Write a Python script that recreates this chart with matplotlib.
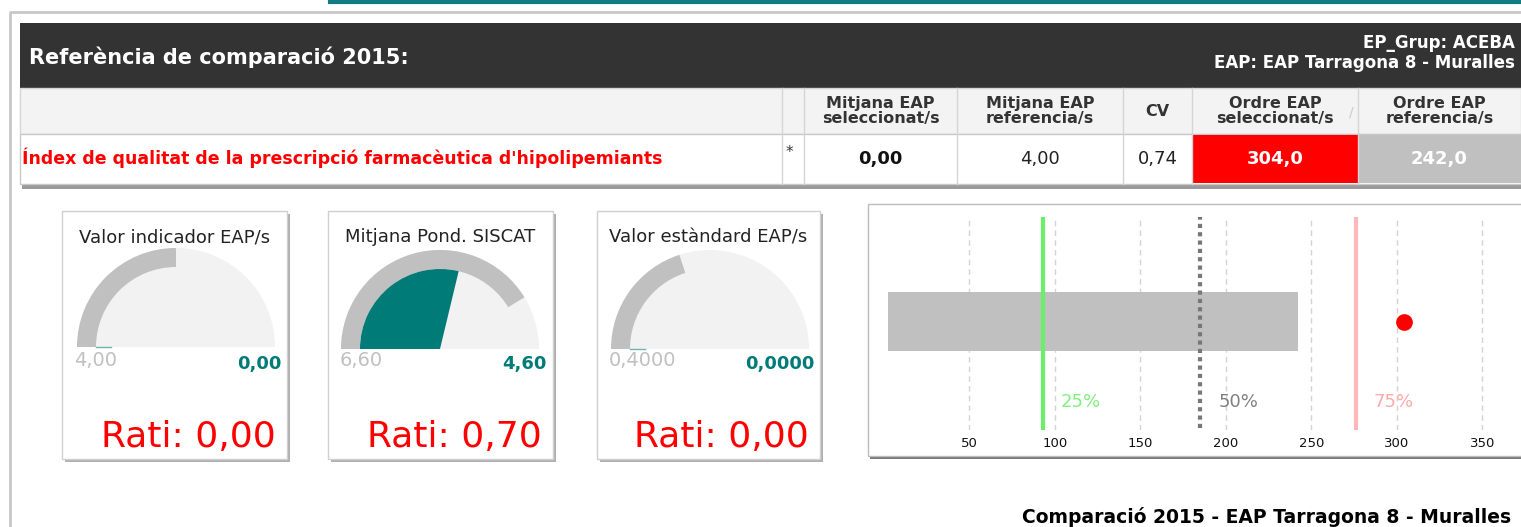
import matplotlib
matplotlib.use("Agg")
import matplotlib.pyplot as plt
from matplotlib.patches import Rectangle, Wedge

# ---- dades ----
header_title = "Referència de comparació 2015:"
grup_text = "EP_Grup: ACEBA"
eap_text = "EAP: EAP Tarragona 8 - Muralles"
col_labels = ["Mitjana EAP\nseleccionat/s", "Mitjana EAP\nreferencia/s", "CV",
              "Ordre EAP\nseleccionat/s", "Ordre EAP\nreferencia/s"]
indicator = "Índex de qualitat de la prescripció farmacèutica d'hipolipemiants"
row_values = ["0,00", "4,00", "0,74", "304,0", "242,0"]

gauge_titles = ["Valor indicador EAP/s", "Mitjana Pond. SISCAT", "Valor estàndard EAP/s"]
gauge_values = [0.0, 4.6, 0.0]
gauge_refs = [4.0, 6.6, 0.4]
gauge_max = [8.0, 8.0, 1.0]
gauge_ref_labels = ["4,00", "6,60", "0,4000"]
gauge_value_labels = ["0,00", "4,60", "0,0000"]
ratis = ["Rati: 0,00", "Rati: 0,70", "Rati: 0,00"]

rank_ref = 242
rank_sel = 304
pct_labels = ["25%", "50%", "75%"]
pct_values = [93, 185, 276]
axis_ticks = [50, 100, 150, 200, 250, 300, 350]
footer = "Comparació 2015 - EAP Tarragona 8 - Muralles"

W, H = 1521, 527
TEAL = "#007b78"

fig = plt.figure(figsize=(W / 100, H / 100), dpi=100)
bg = fig.add_axes([0, 0, 1, 1])
bg.set_xlim(0, W)
bg.set_ylim(H, 0)
bg.axis("off")


def rect(x0, y0, x1, y1, **kw):
    bg.add_patch(Rectangle((x0, y0), x1 - x0, y1 - y0, **kw))


# marc exterior i linia superior
bg.plot([330, W], [1.5, 1.5], color="#137a7f", lw=3)
bg.plot([10, 10, W], [H, 12, 12], color="#c8c8c8", lw=2)

# ---- taula ----
rect(22, 185, W, 189, color="#9a9a9a", lw=0)
rect(20, 23, W, 88, color="#333333", lw=0)
rect(20, 88, W, 134, facecolor="#f3f3f3", edgecolor="#d5d5d5", lw=1)
rect(20, 134, W, 184, facecolor="white", edgecolor="#c8c8c8", lw=1)

bg.text(29, 57, header_title, color="white", fontsize=15, fontweight="bold", va="center")
bg.text(1515, 43, grup_text, color="white", fontsize=12, fontweight="bold",
        ha="right", va="center")
bg.text(1515, 63, eap_text, color="white", fontsize=12, fontweight="bold",
        ha="right", va="center")

col_edges = [804, 957, 1123, 1192, 1358, W]
cell_bg = ["white", "white", "white", "#ff0000", "#c0c0c0"]
cell_fg = ["#111111", "#222222", "#222222", "white", "white"]
cell_w = ["bold", "normal", "normal", "bold", "bold"]
for x in [782] + col_edges[:-1]:
    bg.plot([x, x], [88, 184], color="#d5d5d5", lw=1)
for i, lab in enumerate(col_labels):
    x0, x1 = col_edges[i], col_edges[i + 1]
    xc = (x0 + x1) / 2
    bg.text(xc, 111, lab, ha="center", va="center", fontsize=11.5, fontweight="bold",
            color="#333333", linespacing=0.95)
    if cell_bg[i] != "white":
        rect(x0 + 0.5, 135, x1, 183, color=cell_bg[i], lw=0)
    bg.text(xc, 159, row_values[i], ha="center", va="center", fontsize=13,
            fontweight=cell_w[i], color=cell_fg[i])
bg.text(1351, 113, "/", color="#cccccc", fontsize=10, ha="center", va="center")
bg.text(786, 152, "*", color="#333333", fontsize=11, va="center")
bg.text(22, 158, indicator, color="#ff0000", fontsize=12.5, fontweight="bold", va="center")

# ---- gauges ----
cards = [(62, 287), (328, 553), (597, 820)]
centers = [(176, 347), (440, 349), (710, 349)]
r_out, r_in = 99, 80
for i in range(3):
    cx0, cx1 = cards[i]
    rect(cx0 + 3, 214, cx1 + 3, 462, color="#b0b0b0", lw=0)
    rect(cx0, 211, cx1, 459, facecolor="white", edgecolor="#d0d0d0", lw=1)
    bg.text((cx0 + cx1) / 2, 237, gauge_titles[i], ha="center", va="center",
            fontsize=13, color="#222222")
    c = centers[i]
    bg.add_patch(Wedge(c, r_out, 180, 360, color="#f2f2f2", lw=0))
    s_ref = gauge_refs[i] / gauge_max[i] * 180
    bg.add_patch(Wedge(c, r_out, 180, 180 + s_ref, width=r_out - r_in, color="#c0c0c0", lw=0))
    s_val = gauge_values[i] / gauge_max[i] * 180
    if s_val > 0:
        bg.add_patch(Wedge(c, r_in, 180, 180 + s_val, color=TEAL, lw=0))
    else:
        bg.plot([c[0] - r_in, c[0] - r_in + 15], [c[1] - 0.5, c[1] - 0.5], color="#6fb3b1", lw=1)
    bg.text(cx0 + 12, 361, gauge_ref_labels[i], ha="left", va="center", fontsize=14,
            color="#c0c0c0")
    bg.text(cx1 - 6, 364, gauge_value_labels[i], ha="right", va="center", fontsize=13,
            color=TEAL, fontweight="bold")
    bg.text(cx1 - 11, 437, ratis[i], ha="right", va="center", fontsize=26, color="#ff0000")

# ---- bullet ----
rect(870, 207, W + 5, 459, color="#7a7a7a", lw=0)
rect(868, 204, W + 5, 456, facecolor="white", edgecolor="#bbbbbb", lw=1)

ax_l, ax_r, ax_t, ax_b = 888, W, 217, 430
ax = fig.add_axes([ax_l / W, (H - ax_b) / H, (ax_r - ax_l) / W, (ax_b - ax_t) / H])
ax.set_facecolor("none")
px_unit = 1.7096
x_min = 2.4
ax.set_xlim(x_min, x_min + (ax_r - ax_l) / px_unit)
ax.set_ylim(0, 1)
for sp in ax.spines.values():
    sp.set_visible(False)
ax.set_yticks([])
ax.set_xticks(axis_ticks)
ax.set_xticklabels([str(t) for t in axis_ticks], fontsize=9.5, color="#111111")
ax.tick_params(axis="x", length=0, pad=5)
for t in axis_ticks:
    ax.axvline(t, color="#d4d4d4", lw=1, ls=(0, (4, 3)), zorder=0)

ax.barh(0.51, rank_ref, height=0.274, color="#c0c0c0", zorder=1)
pct_colors = ["#6bef6b", "#777777", "#ffb8b8"]
pct_text_colors = ["#80f080", "#808080", "#ffaaaa"]
pct_styles = ["-", (0, (1, 1)), "-"]
for v, lab, c, tc, ls in zip(pct_values, pct_labels, pct_colors, pct_text_colors, pct_styles):
    ax.plot([v, v], [0.01, 1], color=c, lw=3, ls=ls, zorder=2)
    ax.annotate(lab, (v, 0.133), xytext=(13, 0), textcoords="offset points",
                ha="left", va="center", fontsize=13, color=tc)
ax.scatter([rank_sel], [0.507], s=145, color="#ff0000", zorder=3, linewidths=0)

# ---- peu ----
bg.text(1022, 517, footer, fontsize=13.5, fontweight="bold", color="black", va="center")

fig.savefig("out.png", dpi=100)
